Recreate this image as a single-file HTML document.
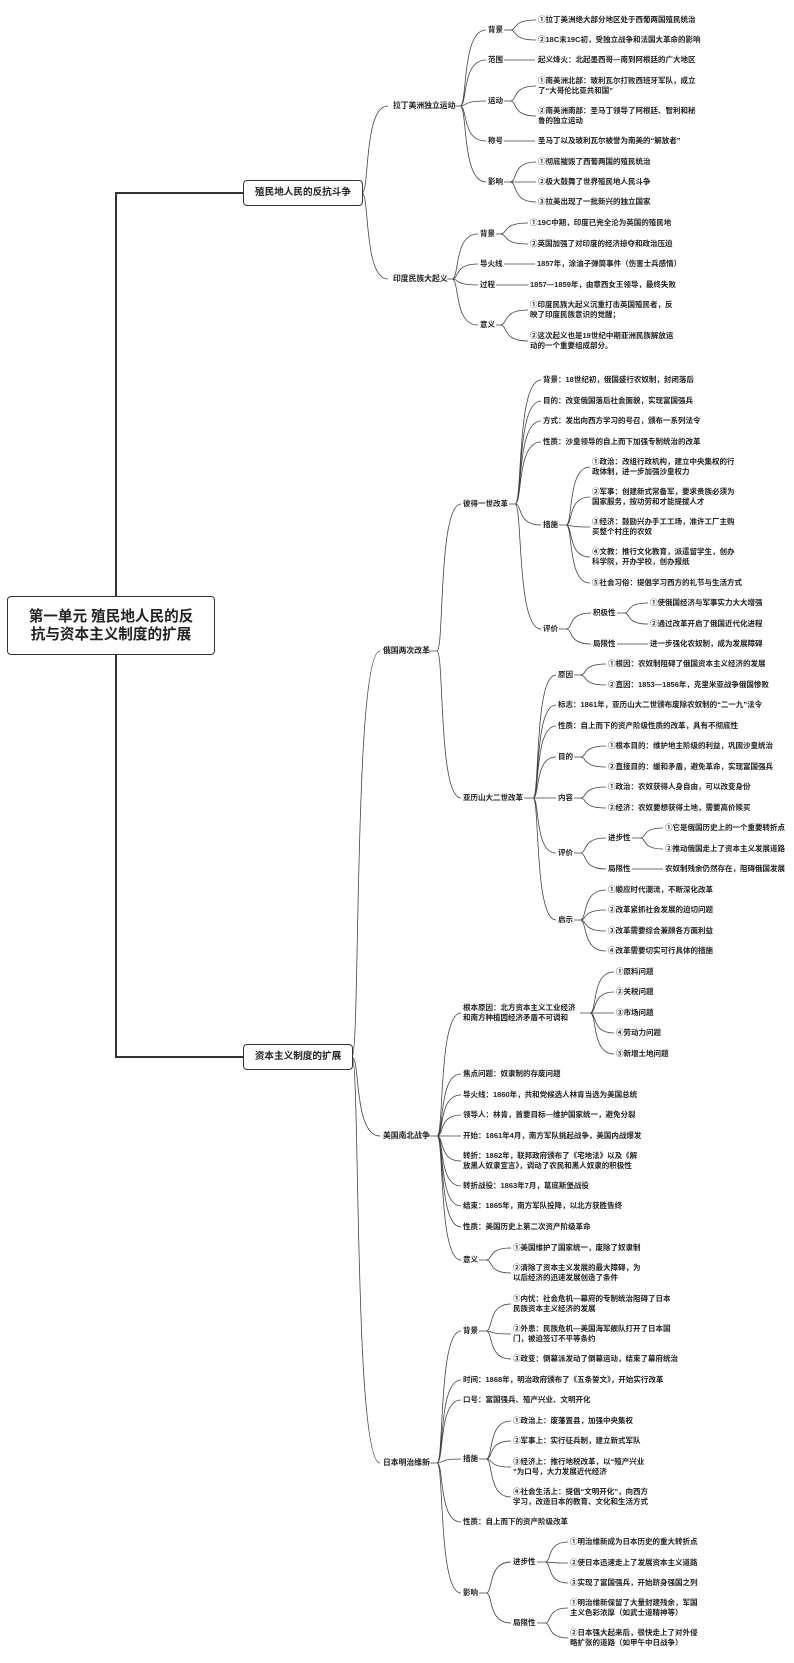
<!DOCTYPE html>
<html><head><meta charset="utf-8">
<style>
html,body{margin:0;padding:0;background:#fff;}
body{width:794px;height:1663px;position:relative;overflow:hidden;font-family:"Liberation Sans","Noto Sans CJK SC",sans-serif;color:#222;}
.t{position:absolute;font-size:7.5px;line-height:10px;white-space:nowrap;font-weight:600;transform:translateY(-5px);}
.t2{transform:translateY(-10px);}
.l2{font-size:7.8px;}
.box{position:absolute;border:1.5px solid #333;border-radius:4px;background:#fff;font-weight:bold;text-align:center;box-sizing:border-box;}
svg{position:absolute;left:0;top:0;}
</style></head><body>
<svg id="s" width="794" height="1663" viewBox="0 0 794 1663">
<path d="M116 596 V193 H243 M116 655 V1057 H243" stroke="#333" stroke-width="2" fill="none"/>
</svg>
<div class="box" style="left:7px;top:596px;width:208px;height:59px;font-size:14.6px;line-height:18px;padding-top:11px;">第一单元 殖民地人民的反<br>抗与资本主义制度的扩展</div>
<div class="box" style="left:243px;top:180px;width:120px;height:26px;font-size:9.6px;line-height:23px;">殖民地人民的反抗斗争</div>
<div class="box" style="left:243px;top:1044px;width:110px;height:26px;font-size:9.6px;line-height:23px;">资本主义制度的扩展</div>

<div class="t l2" style="left:393px;top:106px">拉丁美洲独立运动</div>
<div class="t" style="left:488px;top:30px">背景</div>
<div class="t" style="left:538px;top:20px">①拉丁美洲绝大部分地区处于西葡两国殖民统治</div>
<div class="t" style="left:538px;top:40px">②18C末19C初，受独立战争和法国大革命的影响</div>
<div class="t" style="left:488px;top:60px">范围</div>
<div class="t" style="left:538px;top:60px">起义烽火：北起墨西哥—南到阿根廷的广大地区</div>
<div class="t" style="left:488px;top:101px">运动</div>
<div class="t" style="left:538px;top:81px">①南美洲北部：玻利瓦尔打败西班牙军队，成立<br>了“大哥伦比亚共和国”</div>
<div class="t" style="left:538px;top:111px">②南美洲南部：圣马丁领导了阿根廷、智利和秘<br>鲁的独立运动</div>
<div class="t" style="left:488px;top:141px">称号</div>
<div class="t" style="left:538px;top:141px">圣马丁以及玻利瓦尔被誉为南美的“解放者”</div>
<div class="t" style="left:488px;top:182px">影响</div>
<div class="t" style="left:538px;top:162px">①彻底摧毁了西葡两国的殖民统治</div>
<div class="t" style="left:538px;top:182px">②极大鼓舞了世界殖民地人民斗争</div>
<div class="t" style="left:538px;top:202px">③拉美出现了一批新兴的独立国家</div>

<div class="t l2" style="left:393px;top:279px">印度民族大起义</div>
<div class="t" style="left:480px;top:234px">背景</div>
<div class="t" style="left:530px;top:223px">①19C中期，印度已完全沦为英国的殖民地</div>
<div class="t" style="left:530px;top:244px">②英国加强了对印度的经济掠夺和政治压迫</div>
<div class="t" style="left:480px;top:264px">导火线</div>
<div class="t" style="left:537px;top:264px">1857年，涂油子弹筒事件（伤害士兵感情）</div>
<div class="t" style="left:480px;top:285px">过程</div>
<div class="t" style="left:530px;top:285px">1857—1859年，由章西女王领导，最终失败</div>
<div class="t" style="left:480px;top:325px">意义</div>
<div class="t" style="left:530px;top:305px">①印度民族大起义沉重打击英国殖民者，反<br>映了印度民族意识的觉醒；</div>
<div class="t" style="left:530px;top:336px">②这次起义也是19世纪中期亚洲民族解放运<br>动的一个重要组成部分。</div>

<div class="t l2" style="left:383px;top:651px">俄国两次改革</div>
<div class="t" style="left:463px;top:504px">彼得一世改革</div>
<div class="t" style="left:543px;top:380px">背景：18世纪初，俄国盛行农奴制，封闭落后</div>
<div class="t" style="left:543px;top:401px">目的：改变俄国落后社会面貌，实现富国强兵</div>
<div class="t" style="left:543px;top:421px">方式：发出向西方学习的号召，颁布一系列法令</div>
<div class="t" style="left:543px;top:442px">性质：沙皇领导的自上而下加强专制统治的改革</div>
<div class="t" style="left:543px;top:525px">措施</div>
<div class="t" style="left:592px;top:462px">①政治：改组行政机构，建立中央集权的行<br>政体制，进一步加强沙皇权力</div>
<div class="t" style="left:592px;top:492px">②军事：创建新式常备军，要求贵族必须为<br>国家服务，按功劳和才能提拔人才</div>
<div class="t" style="left:592px;top:522px">③经济：鼓励兴办手工工场，准许工厂主购<br>买整个村庄的农奴</div>
<div class="t" style="left:592px;top:552px">④文教：推行文化教育，派遣留学生，创办<br>科学院，开办学校，创办报纸</div>
<div class="t" style="left:592px;top:583px">⑤社会习俗：提倡学习西方的礼节与生活方式</div>
<div class="t" style="left:543px;top:629px">评价</div>
<div class="t" style="left:593px;top:613px">积极性</div>
<div class="t" style="left:650px;top:603px">①使俄国经济与军事实力大大增强</div>
<div class="t" style="left:650px;top:624px">②通过改革开启了俄国近代化进程</div>
<div class="t" style="left:593px;top:644px">局限性</div>
<div class="t" style="left:650px;top:644px">进一步强化农奴制，成为发展障碍</div>

<div class="t" style="left:463px;top:798px">亚历山大二世改革</div>
<div class="t" style="left:558px;top:675px">原因</div>
<div class="t" style="left:608px;top:664px">①根因：农奴制阻碍了俄国资本主义经济的发展</div>
<div class="t" style="left:608px;top:685px">②直因：1853—1856年，克里米亚战争俄国惨败</div>
<div class="t" style="left:558px;top:705px">标志：1861年，亚历山大二世颁布废除农奴制的“二一九”法令</div>
<div class="t" style="left:558px;top:726px">性质：自上而下的资产阶级性质的改革，具有不彻底性</div>
<div class="t" style="left:558px;top:757px">目的</div>
<div class="t" style="left:608px;top:746px">①根本目的：维护地主阶级的利益，巩固沙皇统治</div>
<div class="t" style="left:608px;top:767px">②直接目的：缓和矛盾，避免革命，实现富国强兵</div>
<div class="t" style="left:558px;top:798px">内容</div>
<div class="t" style="left:608px;top:787px">①政治：农奴获得人身自由，可以改变身份</div>
<div class="t" style="left:608px;top:808px">②经济：农奴要想获得土地，需要高价赎买</div>
<div class="t" style="left:558px;top:853px">评价</div>
<div class="t" style="left:608px;top:838px">进步性</div>
<div class="t" style="left:665px;top:828px">①它是俄国历史上的一个重要转折点</div>
<div class="t" style="left:665px;top:849px">②推动俄国走上了资本主义发展道路</div>
<div class="t" style="left:608px;top:869px">局限性</div>
<div class="t" style="left:665px;top:869px">农奴制残余仍然存在，阻碍俄国发展</div>
<div class="t" style="left:558px;top:920px">启示</div>
<div class="t" style="left:608px;top:890px">①顺应时代潮流，不断深化改革</div>
<div class="t" style="left:608px;top:910px">②改革紧抓社会发展的迫切问题</div>
<div class="t" style="left:608px;top:931px">③改革需要综合兼顾各方面利益</div>
<div class="t" style="left:608px;top:951px">④改革需要切实可行具体的措施</div>

<div class="t l2" style="left:383px;top:1136px">美国南北战争</div>
<div class="t" style="left:463px;top:1008px">根本原因：北方资本主义工业经济<br>和南方种植园经济矛盾不可调和</div>
<div class="t" style="left:616px;top:972px">①原料问题</div>
<div class="t" style="left:616px;top:992px">②关税问题</div>
<div class="t" style="left:616px;top:1013px">③市场问题</div>
<div class="t" style="left:616px;top:1033px">④劳动力问题</div>
<div class="t" style="left:616px;top:1054px">⑤新增土地问题</div>
<div class="t" style="left:463px;top:1074px">焦点问题：奴隶制的存废问题</div>
<div class="t" style="left:463px;top:1095px">导火线：1860年，共和党候选人林肯当选为美国总统</div>
<div class="t" style="left:463px;top:1115px">领导人：林肯，首要目标—维护国家统一，避免分裂</div>
<div class="t" style="left:463px;top:1136px">开始：1861年4月，南方军队挑起战争，美国内战爆发</div>
<div class="t" style="left:463px;top:1156px">转折：1862年，联邦政府颁布了《宅地法》以及《解<br>放黑人奴隶宣言》，调动了农民和黑人奴隶的积极性</div>
<div class="t" style="left:463px;top:1186px">转折战役：1863年7月，葛底斯堡战役</div>
<div class="t" style="left:463px;top:1206px">结束：1865年，南方军队投降，以北方获胜告终</div>
<div class="t" style="left:463px;top:1227px">性质：美国历史上第二次资产阶级革命</div>
<div class="t" style="left:463px;top:1260px">意义</div>
<div class="t" style="left:513px;top:1248px">①美国维护了国家统一，废除了奴隶制</div>
<div class="t" style="left:513px;top:1268px">②清除了资本主义发展的最大障碍，为<br>以后经济的迅速发展创造了条件</div>

<div class="t l2" style="left:383px;top:1463px">日本明治维新</div>
<div class="t" style="left:463px;top:1331px">背景</div>
<div class="t" style="left:513px;top:1299px">①内忧：社会危机—幕府的专制统治阻碍了日本<br>民族资本主义经济的发展</div>
<div class="t" style="left:513px;top:1329px">②外患：民族危机—美国海军舰队打开了日本国<br>门，被迫签订不平等条约</div>
<div class="t" style="left:513px;top:1359px">③政变：倒幕派发动了倒幕运动，结束了幕府统治</div>
<div class="t" style="left:463px;top:1380px">时间：1868年，明治政府颁布了《五条誓文》，开始实行改革</div>
<div class="t" style="left:463px;top:1400px">口号：富国强兵、殖产兴业、文明开化</div>
<div class="t" style="left:463px;top:1459px">措施</div>
<div class="t" style="left:513px;top:1421px">①政治上：废藩置县，加强中央集权</div>
<div class="t" style="left:513px;top:1441px">②军事上：实行征兵制，建立新式军队</div>
<div class="t" style="left:513px;top:1462px">③经济上：推行地税改革，以“殖产兴业<br>”为口号，大力发展近代经济</div>
<div class="t" style="left:513px;top:1492px">④社会生活上：提倡“文明开化”，向西方<br>学习，改造日本的教育、文化和生活方式</div>
<div class="t" style="left:463px;top:1522px">性质：自上而下的资产阶级改革</div>
<div class="t" style="left:463px;top:1593px">影响</div>
<div class="t" style="left:513px;top:1562px">进步性</div>
<div class="t" style="left:570px;top:1542px">①明治维新成为日本历史的重大转折点</div>
<div class="t" style="left:570px;top:1563px">②使日本迅速走上了发展资本主义道路</div>
<div class="t" style="left:570px;top:1583px">③实现了富国强兵，开始跻身强国之列</div>
<div class="t" style="left:513px;top:1623px">局限性</div>
<div class="t" style="left:570px;top:1603px">①明治维新保留了大量封建残余，军国<br>主义色彩浓厚（如武士道精神等）</div>
<div class="t" style="left:570px;top:1633px">②日本强大起来后，很快走上了对外侵<br>略扩张的道路（如甲午中日战争）</div>

<script>
(function(){
var g=[
[362,362,193,388,[106,279]],
[352,352,1057,380,[651,1136,1463]],
[455,460,106,486,[30,60,101,141,182]],
[504,510,30,536,[20,40]],
[504,504,60,535,[60]],
[504,510,101,536,[86,116]],
[504,504,141,535,[141]],
[504,510,182,536,[162,182,202]],
[447,452,279,478,[234,264,285,325]],
[496,500,234,528,[223,244]],
[504,504,264,535,[264]],
[496,496,285,528,[285]],
[496,500,325,528,[310,341]],
[429,437,651,461,[504,798]],
[509,515,504,541,[380,401,421,442,525,629]],
[559,566,525,590,[467,497,527,557,583]],
[559,566,629,591,[613,644]],
[617,624,613,648,[603,624]],
[617,617,644,648,[644]],
[524,533,798,556,[675,705,726,757,798,853,920]],
[574,580,675,606,[664,685]],
[574,580,757,606,[746,767]],
[574,580,798,606,[787,808]],
[574,580,853,606,[838,869]],
[632,640,838,663,[828,849]],
[632,632,869,663,[869]],
[574,580,920,606,[890,910,931,951]],
[429,437,1136,461,[1013,1074,1095,1115,1136,1161,1186,1206,1227,1260]],
[580,590,1013,614,[972,992,1013,1033,1054]],
[479,486,1260,511,[1248,1273]],
[429,437,1463,461,[1331,1380,1400,1459,1522,1593]],
[479,486,1331,511,[1304,1334,1359]],
[479,486,1459,511,[1421,1441,1467,1497]],
[479,486,1593,511,[1562,1623]],
[537,545,1562,568,[1542,1563,1583]],
[537,545,1623,568,[1608,1638]]
];
var d="";
g.forEach(function(a){
 var e=a[0],b=a[1],y=a[2],t=a[3];
 if(b>e)d+="M"+e+" "+y+"H"+b;
 a[4].forEach(function(c){
  var w=t-b;
  if(Math.abs(c-y)<1){d+="M"+b+" "+y+"H"+t;}
  else d+="M"+b+" "+y+"C"+(b+w*0.3)+" "+y+" "+(b+w*0.05)+" "+c+" "+t+" "+c;
 });
});
var p=document.createElementNS("http://www.w3.org/2000/svg","path");
p.setAttribute("d",d);p.setAttribute("stroke","#444");p.setAttribute("stroke-width","0.8");p.setAttribute("fill","none");
document.getElementById("s").appendChild(p);
})();
</script>
</body></html>
